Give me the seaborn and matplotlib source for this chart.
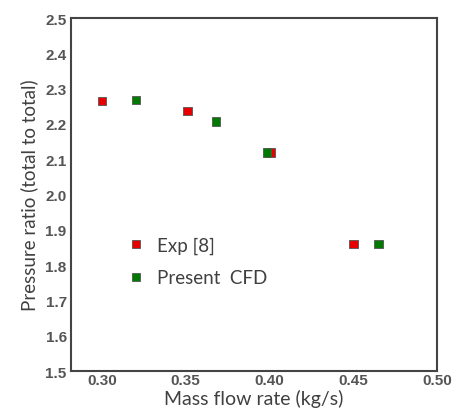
import pandas as pd
import matplotlib
matplotlib.use("Agg")
import matplotlib.pyplot as plt
import seaborn as sns

# data
exp_flow = [0.300, 0.351, 0.4005, 0.450]
exp_pr = [2.265, 2.236, 2.119, 1.860]
cfd_flow = [0.3205, 0.368, 0.3985, 0.465]
cfd_pr = [2.267, 2.207, 2.119, 1.860]
labels = ["Exp [8]", "Present  CFD"]

df = pd.concat([
    pd.DataFrame({"flow": exp_flow, "pr": exp_pr, "src": labels[0]}),
    pd.DataFrame({"flow": cfd_flow, "pr": cfd_pr, "src": labels[1]}),
])

sns.set_style("white")
plt.rcParams['font.family'] = ['Lato', 'DejaVu Sans']

fig = plt.figure(figsize=(4.54, 4.14), dpi=100)
ax = fig.add_axes([0.156, 0.101, 0.807, 0.853])

sns.scatterplot(data=df, x="flow", y="pr", hue="src",
                palette={labels[0]: "#e60000", labels[1]: "#007a00"},
                marker="s", s=36, edgecolor="#555555", linewidth=0.6, ax=ax)

ax.set_xlim(0.2815, 0.50)
ax.set_ylim(1.5, 2.5)
ax.set_xticks([0.30, 0.35, 0.40, 0.45, 0.50])
ax.set_yticks([1.5, 1.6, 1.7, 1.8, 1.9, 2.0, 2.1, 2.2, 2.3, 2.4, 2.5])
ax.set_xticklabels(["0.30", "0.35", "0.40", "0.45", "0.50"])
ax.set_yticklabels([f"{v:.1f}" for v in ax.get_yticks()])
ax.tick_params(axis="both", length=0, labelsize=11, labelcolor="#555555")
ax.tick_params(axis="x", pad=1)
ax.tick_params(axis="y", pad=3)
for t in ax.get_xticklabels() + ax.get_yticklabels():
    t.set_fontweight("bold")
    t.set_family(["Liberation Sans", "DejaVu Sans"])

for sp in ax.spines.values():
    sp.set_color("#444444")
    sp.set_linewidth(1.5)

ax.set_xlabel("Mass flow rate (kg/s)", fontsize=14, color="#404040", labelpad=2)
ax.set_ylabel("Pressure ratio (total to total)", fontsize=13.5, color="#404040", labelpad=5)

ax.legend(loc="upper left", bbox_to_anchor=(0.082, 0.43), frameon=False,
          fontsize=13.5, labelspacing=0.85, handletextpad=0.1, markerscale=1.0,
          labelcolor="#404040")

fig.savefig("out.png", dpi=100)
